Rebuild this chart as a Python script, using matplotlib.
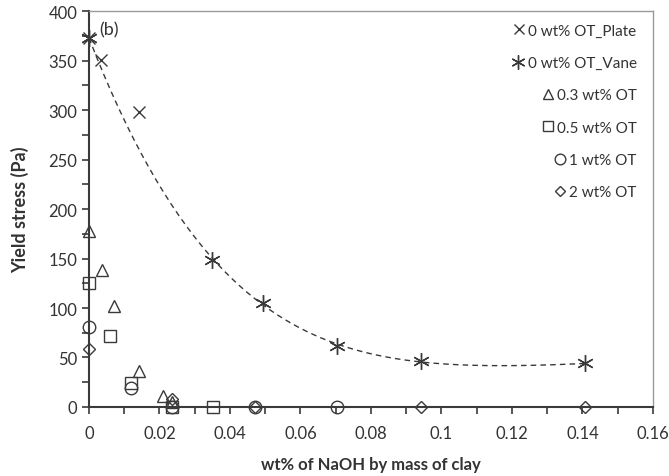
import numpy as np
import matplotlib
matplotlib.use("Agg")
import matplotlib.pyplot as plt
from matplotlib.ticker import MultipleLocator
from matplotlib.offsetbox import VPacker

plt.rcParams['font.family'] = ['Lato', 'DejaVu Sans']

# data
plate_x = [0.0, 0.0035, 0.0141]
plate_y = [373, 351, 298]
vane_x = [0.0, 0.035, 0.0495, 0.0704, 0.0941, 0.1408]
vane_y = [373, 149, 105, 62, 46, 44]
ot03_x = [0.0, 0.0037, 0.0072, 0.0142, 0.021, 0.0236]
ot03_y = [178, 138, 102, 36, 11, 5]
ot05_x = [0.0, 0.0059, 0.0119, 0.0236, 0.0352]
ot05_y = [125, 72, 24, 0, 0]
ot1_x = [0.0, 0.0119, 0.0236, 0.047, 0.0704]
ot1_y = [81, 19, 0, 0, 0]
ot2_x = [0.0, 0.0236, 0.047, 0.0941, 0.1408]
ot2_y = [59, 8, 0, 0, 0]

ink = '#3a3a3a'
fig = plt.figure(figsize=(6.69, 4.77), dpi=100)
ax = fig.add_axes([0.133, 0.1447, 0.843, 0.83])

# polynomial trendline through the vane data
coef = np.polyfit(vane_x, vane_y, 4)
xs = np.linspace(0, max(vane_x), 200)
ax.plot(xs, np.polyval(coef, xs), '--', color=ink, lw=1, dashes=(4, 3), zorder=1)

style = dict(ls='none', mfc='none', mec=ink, mew=1, ms=9, clip_on=False)
ax.plot(plate_x, plate_y, marker='x', label='0 wt% OT_Plate', **style)
ax.plot(vane_x, vane_y, marker=(6, 2, 0), label='0 wt% OT_Vane', **dict(style, ms=12))
ax.plot(ot03_x, ot03_y, marker='^', label='0.3 wt% OT', **style)
ax.plot(ot05_x, ot05_y, marker='s', label='0.5 wt% OT', **style)
ax.plot(ot1_x, ot1_y, marker='o', label='1 wt% OT', **style)
ax.plot(ot2_x, ot2_y, marker='D', label='2 wt% OT', **dict(style, ms=6.5))

ax.set_xlim(0, 0.16)
ax.set_ylim(0, 400)
ax.xaxis.set_major_locator(MultipleLocator(0.02))
ax.xaxis.set_minor_locator(MultipleLocator(0.01))
ax.yaxis.set_major_locator(MultipleLocator(50))
ax.yaxis.set_minor_locator(MultipleLocator(25))
ax.set_xticklabels([f'{v:g}' for v in ax.get_xticks()])
ax.tick_params(which='both', direction='out', length=5, width=1.2, color=ink,
               labelsize=12, labelcolor='#333333')
ax.tick_params(axis='x', pad=8)

for s in ['left', 'bottom']:
    ax.spines[s].set_color(ink)
    ax.spines[s].set_linewidth(1.5)
for s in ['top', 'right']:
    ax.spines[s].set_color('#999999')
    ax.spines[s].set_linewidth(1)

ax.set_xlabel('wt% of NaOH by mass of clay', fontsize=12, fontweight='bold',
              color='#333333', labelpad=11)
ax.set_ylabel('Yield stress (Pa)', fontsize=13, fontweight='bold',
              color='#333333', labelpad=14)

ax.text(0.018, 0.975, '(b)', transform=ax.transAxes, fontsize=13,
        color='#333333', va='top')

leg = ax.legend(loc='upper right', frameon=False, fontsize=11, markerscale=0.85,
                handlelength=0.6, handletextpad=0.3, labelspacing=1.2,
                borderaxespad=0.3, bbox_to_anchor=(0.99, 0.995))


def align_right(box):
    for child in box.get_children():
        if isinstance(child, VPacker):
            child.align = 'right'
        align_right(child)


align_right(leg._legend_box)
for t in leg.get_texts():
    t.set_color('#333333')

fig.savefig('out.png', dpi=100)
